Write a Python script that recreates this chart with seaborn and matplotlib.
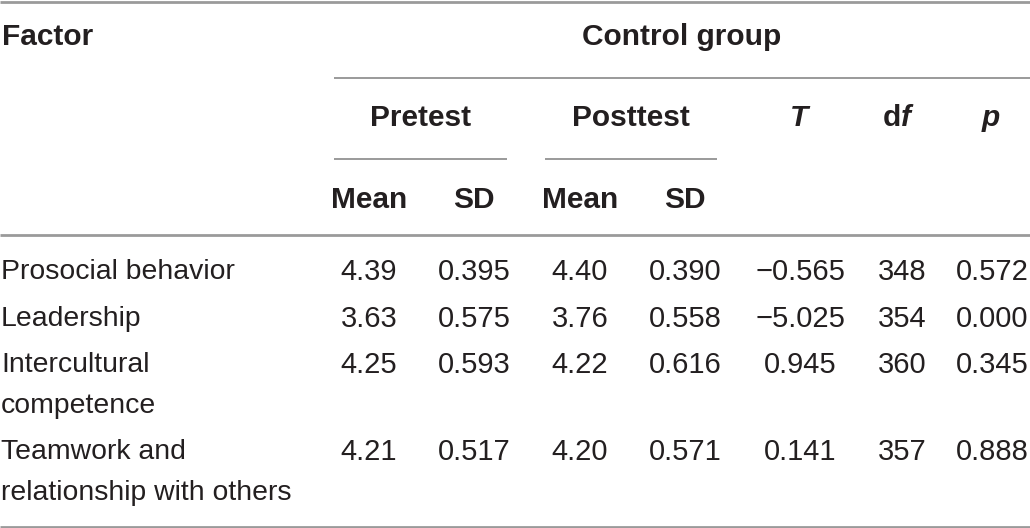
import matplotlib
matplotlib.use("Agg")
import matplotlib.pyplot as plt
import seaborn as sns

sns.set_theme(style="white")
plt.rcParams['font.family'] = ['Liberation Sans', 'DejaVu Sans']

factors = [["Prosocial behavior"], ["Leadership"], ["Intercultural", "competence"],
           ["Teamwork and", "relationship with others"]]
pre_mean = ["4.39", "3.63", "4.25", "4.21"]
pre_sd = ["0.395", "0.575", "0.593", "0.517"]
post_mean = ["4.40", "3.76", "4.22", "4.20"]
post_sd = ["0.390", "0.558", "0.616", "0.571"]
t_vals = ["\u22120.565", "\u22125.025", "0.945", "0.141"]
df_vals = ["348", "354", "360", "357"]
p_vals = ["0.572", "0.000", "0.345", "0.888"]

W, H = 1030, 528
fig = plt.figure(figsize=(W / 100, H / 100), dpi=100)
ax = fig.add_axes([0, 0, 1, 1])
ax.set_xlim(0, W)
ax.set_ylim(H, 0)
ax.axis("off")

txt = "#231f20"
line_c = "#9a9a9a"
fs = 21
fs_lab = 20.4
fsb = 21.5

def hline(y, x0, x1, lw=1.6):
    ax.plot([x0, x1], [y, y], color=line_c, lw=lw, solid_capstyle="butt")

hline(1.5, 0, W, 2.0)
hline(78, 334, W, 1.4)
hline(159, 334, 507, 1.4)
hline(159, 545, 717, 1.4)
hline(235, 0, W, 2.0)
hline(526.5, 0, W, 2.0)

bold = dict(fontsize=fsb, fontweight="bold", color=txt, va="center")
ax.text(2, 37, "Factor", ha="left", **bold)
ax.text(682, 37, "Control group", ha="center", **bold)
ax.text(421, 118, "Pretest", ha="center", **bold)
ax.text(631, 118, "Posttest", ha="center", **bold)
ax.text(799, 118, "T", ha="center", style="italic", **bold)
ax.text(901, 118, "d", ha="right", **bold)
ax.text(901, 118, "f", ha="left", style="italic", **bold)
ax.text(991, 118, "p", ha="center", style="italic", **bold)
for cx, lab in [(369, "Mean"), (474, "SD"), (580, "Mean"), (685, "SD")]:
    ax.text(cx, 200, lab, ha="center", **bold)

row_y = [272, 319, 365, 452]
line_gap = 41
cols = [(369, pre_mean), (474, pre_sd), (580, post_mean), (685, post_sd),
        (800, t_vals), (902, df_vals), (992, p_vals)]
reg = dict(color=txt, va="center")
for i, y in enumerate(row_y):
    for j, line in enumerate(factors[i]):
        ax.text(1, y + j * line_gap, line, ha="left", fontsize=fs_lab, **reg)
    for cx, vals in cols:
        ax.text(cx, y, vals[i], ha="center", fontsize=fs, **reg)

fig.savefig("out.png", dpi=100, facecolor="white")
